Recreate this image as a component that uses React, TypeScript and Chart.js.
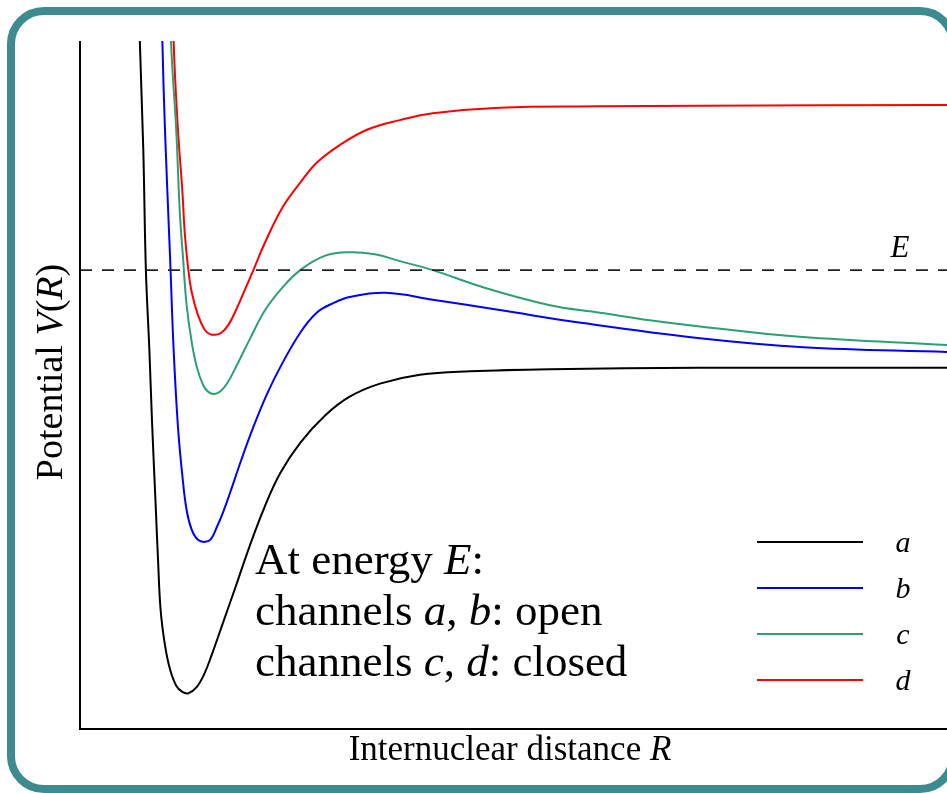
import { useEffect, useRef } from "react";
import { Chart, registerables } from "chart.js";

Chart.register(...registerables);

// Potential curves V(R) for four channels (arbitrary units)
const rA = [0.67, 0.69, 0.73, 0.76, 0.8, 0.83, 0.87, 0.9, 0.93, 0.98, 1.04, 1.11, 1.18, 1.25, 1.34, 1.43, 1.52, 1.64, 1.79, 1.96, 2.13, 2.31, 2.54, 2.83, 3.11, 3.46, 3.92, 4.5, 5.42, 7.15, 10.0];
const vA = [11.18, 10.0, 8.42, 6.67, 5.51, 4.49, 3.33, 2.46, 1.73, 1.22, 0.86, 0.63, 0.54, 0.52, 0.6, 0.79, 1.08, 1.51, 2.05, 2.67, 3.23, 3.72, 4.16, 4.56, 4.83, 5.02, 5.15, 5.2, 5.23, 5.25, 5.25];

const rB = [0.93, 0.95, 0.98, 1.04, 1.08, 1.13, 1.18, 1.23, 1.29, 1.36, 1.44, 1.51, 1.58, 1.65, 1.73, 1.86, 2.0, 2.15, 2.31, 2.54, 2.73, 2.92, 3.11, 3.52, 4.07, 4.84, 5.8, 7.15, 8.34, 10.0];
const vB = [11.18, 10.0, 8.71, 6.82, 5.51, 4.39, 3.69, 3.18, 2.89, 2.75, 2.72, 2.76, 2.94, 3.15, 3.43, 3.91, 4.39, 4.85, 5.26, 5.76, 6.05, 6.19, 6.28, 6.34, 6.24, 6.09, 5.9, 5.68, 5.55, 5.48];

const rC = [1.04, 1.05, 1.11, 1.15, 1.19, 1.23, 1.29, 1.35, 1.42, 1.48, 1.55, 1.62, 1.7, 1.81, 1.96, 2.13, 2.31, 2.54, 2.83, 3.11, 3.4, 3.69, 4.07, 4.65, 5.42, 6.0, 6.57, 7.15, 8.3, 10.0];
const vC = [11.18, 10.0, 8.71, 7.54, 6.82, 6.16, 5.61, 5.25, 5.0, 4.9, 4.87, 4.91, 5.03, 5.29, 5.67, 6.08, 6.38, 6.67, 6.88, 6.93, 6.9, 6.8, 6.67, 6.42, 6.16, 6.05, 5.94, 5.85, 5.7, 5.58];

const rD = [1.07, 1.08, 1.13, 1.18, 1.21, 1.25, 1.29, 1.36, 1.44, 1.5, 1.56, 1.63, 1.71, 1.8, 1.9, 2.0, 2.13, 2.34, 2.54, 2.73, 3.0, 3.31, 3.69, 4.07, 4.84, 6.0, 7.15, 10.0];
const vD = [11.18, 10.0, 8.71, 7.83, 7.18, 6.67, 6.34, 6.02, 5.8, 5.74, 5.73, 5.76, 5.87, 6.09, 6.38, 6.67, 7.06, 7.59, 7.94, 8.23, 8.49, 8.71, 8.85, 8.95, 9.03, 9.05, 9.06, 9.07];

const channelLabels = ["a", "b", "c", "d"];
const channelColors = ["#000000", "#0000ff", "#2ca070", "#ff0000"];

const energyE = 6.67;
const rRange = [0, 10];
const vRange = [0, 10];

const xTitle = [
  { text: "Internuclear distance ", italic: false },
  { text: "R", italic: true },
];
const yTitle = [
  { text: "Potential ", italic: false },
  { text: "V", italic: true },
  { text: "(", italic: false },
  { text: "R", italic: true },
  { text: ")", italic: false },
];
const noteLines = [
  [
    { text: "At energy ", italic: false },
    { text: "E", italic: true },
    { text: ":", italic: false },
  ],
  [
    { text: "channels ", italic: false },
    { text: "a", italic: true },
    { text: ", ", italic: false },
    { text: "b", italic: true },
    { text: ": open", italic: false },
  ],
  [
    { text: "channels ", italic: false },
    { text: "c", italic: true },
    { text: ", ", italic: false },
    { text: "d", italic: true },
    { text: ": closed", italic: false },
  ],
];

type Part = { text: string; italic: boolean };
const SERIF = '"Liberation Serif", "Times New Roman", serif';

function drawRich(ctx: CanvasRenderingContext2D, parts: Part[], x: number, y: number, size: number, align: "left" | "center") {
  const fonts = parts.map((p) => `${p.italic ? "italic " : ""}${size}px ${SERIF}`);
  let total = 0;
  const widths = parts.map((p, i) => {
    ctx.font = fonts[i];
    const w = ctx.measureText(p.text).width;
    total += w;
    return w;
  });
  let cx = align === "center" ? x - total / 2 : x;
  ctx.textAlign = "left";
  ctx.textBaseline = "alphabetic";
  parts.forEach((p, i) => {
    ctx.font = fonts[i];
    ctx.fillText(p.text, cx, y);
    cx += widths[i];
  });
}

const decorations = {
  id: "decorations",
  afterDraw(chart: Chart) {
    const ctx = chart.ctx;
    const area = chart.chartArea;
    ctx.save();

    // rounded frame
    ctx.strokeStyle = "#3d8b8f";
    ctx.lineWidth = 8;
    ctx.beginPath();
    ctx.roundRect(11, 11, 942, 778, 33);
    ctx.stroke();

    // axis lines
    ctx.strokeStyle = "#000";
    ctx.lineWidth = 2;
    ctx.beginPath();
    ctx.moveTo(area.left, area.top);
    ctx.lineTo(area.left, area.bottom);
    ctx.lineTo(area.right, area.bottom);
    ctx.stroke();

    ctx.fillStyle = "#000";
    // axis titles
    drawRich(ctx, xTitle, 510, 760, 35, "center");
    ctx.save();
    ctx.translate(62, 372);
    ctx.rotate(-Math.PI / 2);
    drawRich(ctx, yTitle, 0, 0, 38, "center");
    ctx.restore();

    // energy label
    const yE = chart.scales.y.getPixelForValue(energyE);
    drawRich(ctx, [{ text: "E", italic: true }], 900, yE - 13, 31, "center");

    // annotation
    const baselines = [574, 625, 676];
    noteLines.forEach((line, i) => drawRich(ctx, line, 255, baselines[i], 45, "left"));

    // legend
    channelLabels.forEach((lab, i) => {
      const y = 542 + i * 46;
      ctx.strokeStyle = channelColors[i];
      ctx.lineWidth = 2;
      ctx.beginPath();
      ctx.moveTo(757, y);
      ctx.lineTo(863, y);
      ctx.stroke();
      ctx.fillStyle = "#000";
      drawRich(ctx, [{ text: lab, italic: true }], 903, y + 10, 30, "center");
    });

    ctx.restore();
  },
};

function pts(r: number[], v: number[]) {
  return r.map((x, i) => ({ x, y: v[i] }));
}

export default function App() {
  const canvasRef = useRef<HTMLCanvasElement | null>(null);

  useEffect(() => {
    const canvas = canvasRef.current;
    if (!canvas) return;
    const series = [pts(rA, vA), pts(rB, vB), pts(rC, vC), pts(rD, vD)];
    const chart = new Chart(canvas, {
      type: "line",
      data: {
        datasets: [
          {
            label: "E",
            data: [
              { x: rRange[0], y: energyE },
              { x: rRange[1], y: energyE },
            ],
            borderColor: "#222",
            borderWidth: 1.8,
            borderDash: [12, 10],
            pointRadius: 0,
          },
          ...series.map((data, i) => ({
            label: channelLabels[i],
            data,
            borderColor: channelColors[i],
            borderWidth: 2,
            pointRadius: 0,
            tension: 0.4,
          })),
        ],
      },
      options: {
        responsive: false,
        animation: false,
        layout: { padding: { left: 80, top: 41, right: 0, bottom: 64 } },
        plugins: { legend: { display: false }, tooltip: { enabled: false } },
        scales: {
          x: { type: "linear", min: rRange[0], max: rRange[1], display: false },
          y: { type: "linear", min: vRange[0], max: vRange[1], display: false },
        },
      },
      plugins: [decorations],
    });
    return () => chart.destroy();
  }, []);

  return (
    <div style={{ position: "absolute", left: 0, top: 0, width: 947, height: 793, background: "#fff" }}>
      <canvas ref={canvasRef} width={947} height={793} style={{ display: "block" }} />
    </div>
  );
}
